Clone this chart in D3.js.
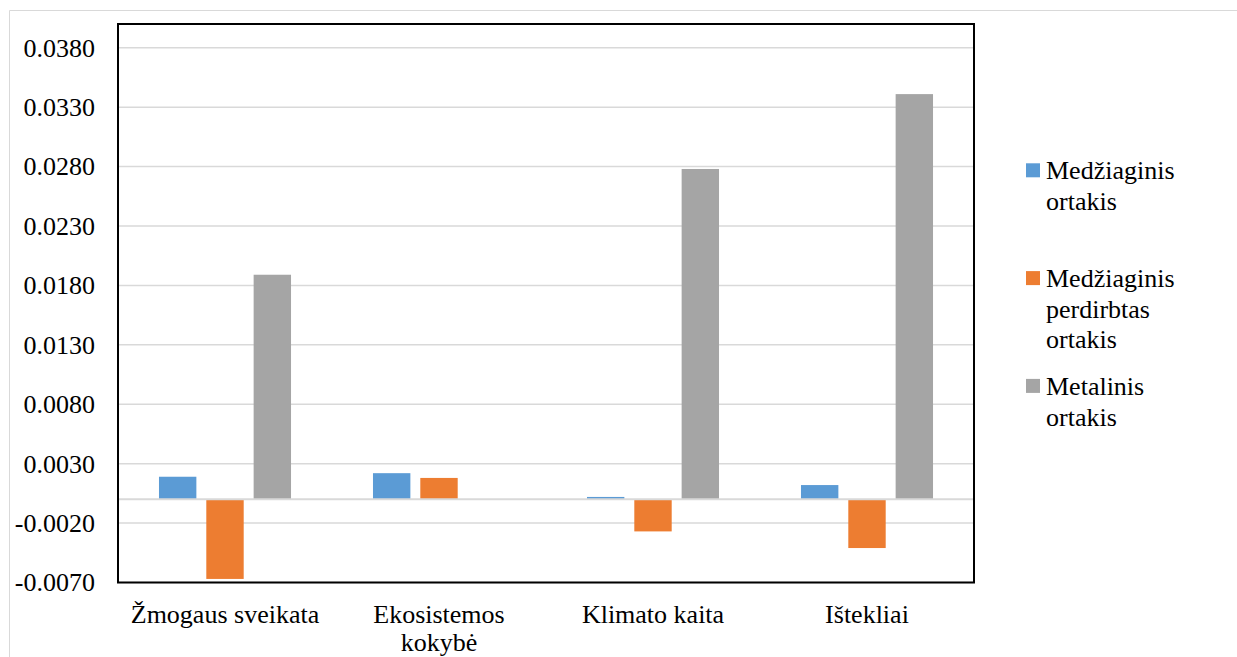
<!DOCTYPE html>
<html>
<head>
<meta charset="utf-8">
<script src="https://cdn.jsdelivr.net/npm/d3@7"></script>
</head>
<body style="margin:0">
<svg id="chart" width="1237" height="657"></svg>
<script>
// Impact categories and the three duct variants
const categories = ["Žmogaus sveikata", "Ekosistemos kokybė", "Klimato kaita", "Ištekliai"];
const seriesNames = ["Medžiaginis ortakis", "Medžiaginis perdirbtas ortakis", "Metalinis ortakis"];
const medziaginis = [0.0019, 0.0022, 0.0002, 0.0012];
const perdirbtas = [-0.0067, 0.0018, -0.0027, -0.0041];
const metalinis = [0.0189, 0.0000, 0.0278, 0.0341];
const yTicks = [-0.0070, -0.0020, 0.0030, 0.0080, 0.0130, 0.0180, 0.0230, 0.0280, 0.0330, 0.0380];
const yDomain = [-0.0070, 0.0400];

const colors = ["#5B9BD5", "#ED7D31", "#A5A5A5"];
const seriesValues = [medziaginis, perdirbtas, metalinis];

const svg = d3.select("#chart");
const plot = { left: 118, right: 974, top: 24, bottom: 582.5 };
const TEXT_STYLE = "font-family: 'Times New Roman', 'Liberation Serif' !important; font-size: 26px;";

// Light frame around the chart area
svg.append("path")
  .attr("d", "M9.5,700 V10.5 H1237")
  .attr("fill", "none")
  .attr("stroke", "#d9d9d9")
  .attr("stroke-width", 1);

const y = d3.scaleLinear().domain(yDomain).range([plot.bottom, plot.top]);
const x0 = d3.scaleBand().domain(categories).range([plot.left, plot.right])
  .paddingInner(0.383).paddingOuter(0.1915);
const x1 = d3.scaleBand().domain(d3.range(seriesNames.length)).range([0, x0.bandwidth()])
  .paddingInner(0.21).paddingOuter(0);

const fmt = d3.formatLocale({ decimal: ".", thousands: ",", grouping: [3], currency: ["", ""], minus: "-" }).format(".4f");

// Horizontal gridlines
svg.append("g")
  .selectAll("line")
  .data(yTicks)
  .join("line")
  .attr("x1", plot.left).attr("x2", plot.right)
  .attr("y1", d => y(d)).attr("y2", d => y(d))
  .attr("stroke", "#d9d9d9")
  .attr("stroke-width", 1.5);

// Value axis labels
svg.append("g")
  .selectAll("text")
  .data(yTicks)
  .join("text")
  .attr("x", 95)
  .attr("y", d => y(d))
  .attr("dy", "0.34em")
  .attr("text-anchor", "end")
  .attr("style", TEXT_STYLE)
  .text(fmt);

// Bars
const groups = svg.append("g")
  .selectAll("g")
  .data(categories)
  .join("g")
  .attr("transform", d => `translate(${x0(d)},0)`);

groups.selectAll("rect")
  .data((c, ci) => seriesValues.map((vals, si) => ({ si, v: vals[ci] })))
  .join("rect")
  .attr("x", d => x1(d.si))
  .attr("width", x1.bandwidth())
  .attr("y", d => y(Math.max(0, d.v)))
  .attr("height", d => Math.abs(y(d.v) - y(0)))
  .attr("fill", d => colors[d.si]);

// Category axis line at zero
svg.append("line")
  .attr("x1", plot.left).attr("x2", plot.right)
  .attr("y1", y(0)).attr("y2", y(0))
  .attr("stroke", "#d9d9d9")
  .attr("stroke-width", 2);

// Plot border
svg.append("rect")
  .attr("x", plot.left).attr("y", plot.top)
  .attr("width", plot.right - plot.left).attr("height", plot.bottom - plot.top)
  .attr("fill", "none")
  .attr("stroke", "#000")
  .attr("stroke-width", 2);

// Greedy word wrap into lines, measured with a hidden probe text
const probe = svg.append("text")
  .attr("style", TEXT_STYLE)
  .attr("visibility", "hidden");
function wrapLines(label, maxWidth) {
  const lines = [];
  let cur = [];
  label.split(" ").forEach(w => {
    const trial = cur.concat(w).join(" ");
    probe.text(trial);
    if (cur.length && probe.node().getComputedTextLength() > maxWidth) {
      lines.push(cur.join(" "));
      cur = [w];
    } else {
      cur.push(w);
    }
  });
  lines.push(cur.join(" "));
  return lines;
}

// Category labels, one text element per line
const xLabels = svg.append("g");
categories.forEach(c => {
  const cx = x0(c) + x0.bandwidth() / 2;
  wrapLines(c, 200).forEach((ln, li) => {
    xLabels.append("text")
      .attr("x", cx).attr("y", 622.7 + li * 28)
      .attr("text-anchor", "middle")
      .attr("style", TEXT_STYLE)
      .text(ln);
  });
});

// Legend
const legend = svg.append("g");
seriesNames.forEach((name, i) => {
  const baseY = 179.3 + i * 107.8;
  legend.append("rect")
    .attr("x", 1026).attr("y", baseY - 16)
    .attr("width", 14).attr("height", 14)
    .attr("fill", colors[i]);
  wrapLines(name, 150).forEach((ln, li) => {
    legend.append("text")
      .attr("x", 1046).attr("y", baseY + li * 30.6)
      .attr("style", TEXT_STYLE)
      .text(ln);
  });
});
probe.remove();
</script>
</body>
</html>
